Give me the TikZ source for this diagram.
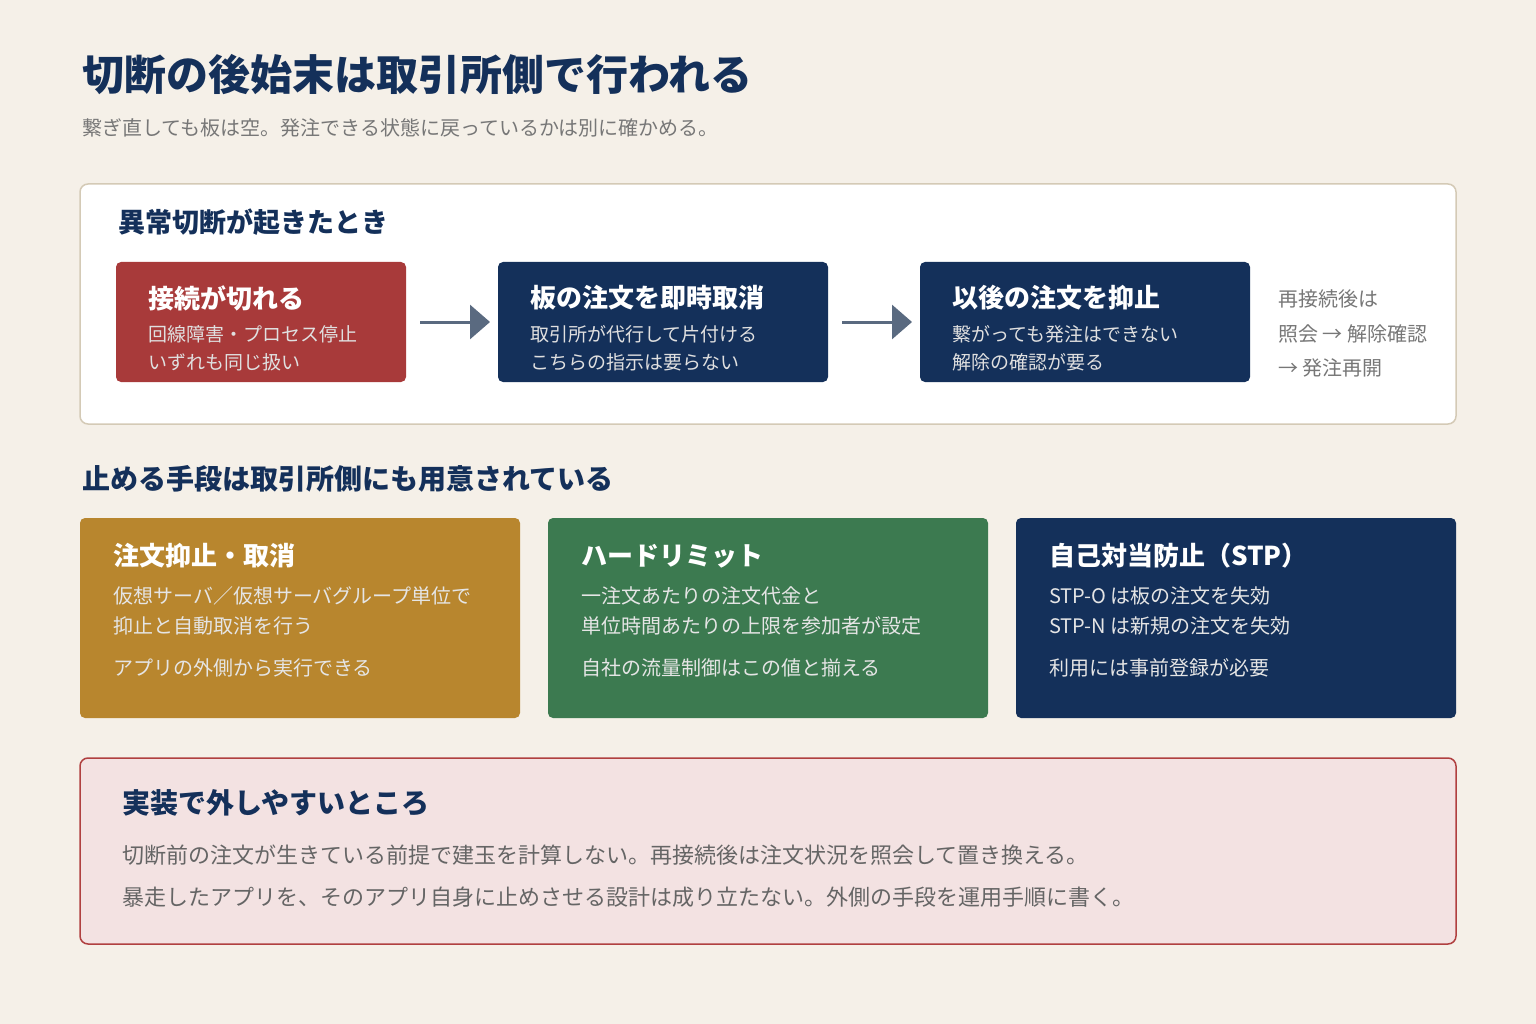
\documentclass[tikz,border=0pt]{standalone}
\usepackage{fontspec}
\setmainfont{Noto Sans CJK JP}
\usetikzlibrary{arrows.meta}
\definecolor{bg}{HTML}{F5F0E8}
\definecolor{navy}{HTML}{14305A}
\definecolor{red1}{HTML}{A83A3A}
\definecolor{gold}{HTML}{B8862E}
\definecolor{green1}{HTML}{3C7A50}
\definecolor{gtext}{HTML}{777777}
\definecolor{beige}{HTML}{D4CAB6}
\definecolor{pink}{HTML}{F3E2E2}
\definecolor{pinkb}{HTML}{B04040}
\definecolor{arr}{HTML}{5A6A80}
\tikzset{
 t/.style={anchor=west,inner sep=0pt},
 sz/.style={font=\fontsize{#1}{#1}\selectfont},
 box/.style={rounded corners=5pt,draw=none},
 btitle/.style={t,text=white,font=\fontsize{26}{26}\selectfont\bfseries},
 bline/.style={t,text=white!88!black,font=\fontsize{19}{19}\selectfont},
 cline/.style={t,text=white!90!black,font=\fontsize{20}{20}\selectfont},
 flow/.style={line width=3pt,draw=arr,-{Triangle[length=20pt,width=34pt]}}
}
\begin{document}
\begin{tikzpicture}[x=1pt,y=-1pt]
\fill[bg] (0,0) rectangle (1536,1024);
\useasboundingbox (0,0) rectangle (1536,1024);
\node[t,text=navy,font=\fontsize{42}{42}\selectfont\bfseries] (title) at (82,75) {切断の後始末は取引所側で行われる};
\node[t,text=gtext,sz=20] (sub) at (82,128) {繋ぎ直しても板は空。発注できる状態に戻っているかは別に確かめる。};
\draw[rounded corners=8pt,fill=white,draw=beige,line width=1.5pt] (80,184) rectangle (1456,424);
\node[t,text=navy,font=\fontsize{27}{27}\selectfont\bfseries] (h1) at (118,222) {異常切断が起きたとき};
\fill[box,red1] (116,262) rectangle (406,382);
\node[btitle] (a1) at (148,298) {接続が切れる};
\node[bline] at (148,334) {回線障害・プロセス停止};
\node[bline] at (148,362) {いずれも同じ扱い};
\fill[box,navy] (498,262) rectangle (828,382);
\node[btitle] (a2) at (530,298) {板の注文を即時取消};
\node[bline] at (530,334) {取引所が代行して片付ける};
\node[bline] at (530,362) {こちらの指示は要らない};
\fill[box,navy] (920,262) rectangle (1250,382);
\node[btitle] (a3) at (952,298) {以後の注文を抑止};
\node[bline] at (952,334) {繋がっても発注はできない};
\node[bline] at (952,362) {解除の確認が要る};
\coordinate (p1) at (420,322); \coordinate (p2) at (490,322);
\coordinate (q1) at (842,322); \coordinate (q2) at (912,322);
\draw[flow] (p1) -- (p2);
\draw[flow] (q1) -- (q2);
\node[t,text=gtext,sz=20] at (1278,299) {再接続後は};
\node[t,text=gtext,sz=20] at (1278,334) {照会 → 解除確認};
\node[t,text=gtext,sz=20] at (1278,368) {→ 発注再開};
\node[t,text=navy,font=\fontsize{28}{28}\selectfont\bfseries] (h2) at (82,479) {止める手段は取引所側にも用意されている};
\fill[box,gold] (80,518) rectangle (520,718);
\node[btitle] at (113,556) {注文抑止・取消};
\node[cline] at (113,596) {仮想サーバ／仮想サーバグループ単位で};
\node[cline] at (113,626) {抑止と自動取消を行う};
\node[cline] at (113,668) {アプリの外側から実行できる};
\fill[box,green1] (548,518) rectangle (988,718);
\node[btitle] at (581,556) {ハードリミット};
\node[cline] at (581,596) {一注文あたりの注文代金と};
\node[cline] at (581,626) {単位時間あたりの上限を参加者が設定};
\node[cline] at (581,668) {自社の流量制御はこの値と揃える};
\fill[box,navy] (1016,518) rectangle (1456,718);
\node[btitle] at (1049,556) {自己対当防止（STP）};
\node[cline] at (1049,596) {STP-O は板の注文を失効};
\node[cline] at (1049,626) {STP-N は新規の注文を失効};
\node[cline] at (1049,668) {利用には事前登録が必要};
\draw[rounded corners=8pt,fill=pink,draw=pinkb,line width=1.5pt] (80,758) rectangle (1456,944);
\node[t,text=navy,font=\fontsize{28}{28}\selectfont\bfseries] at (122,803) {実装で外しやすいところ};
\node[t,text=gtext!85!black,sz=22] at (122,855) {切断前の注文が生きている前提で建玉を計算しない。再接続後は注文状況を照会して置き換える。};
\node[t,text=gtext!85!black,sz=22] at (122,897) {暴走したアプリを、そのアプリ自身に止めさせる設計は成り立たない。外側の手段を運用手順に書く。};
\end{tikzpicture}
\end{document}
